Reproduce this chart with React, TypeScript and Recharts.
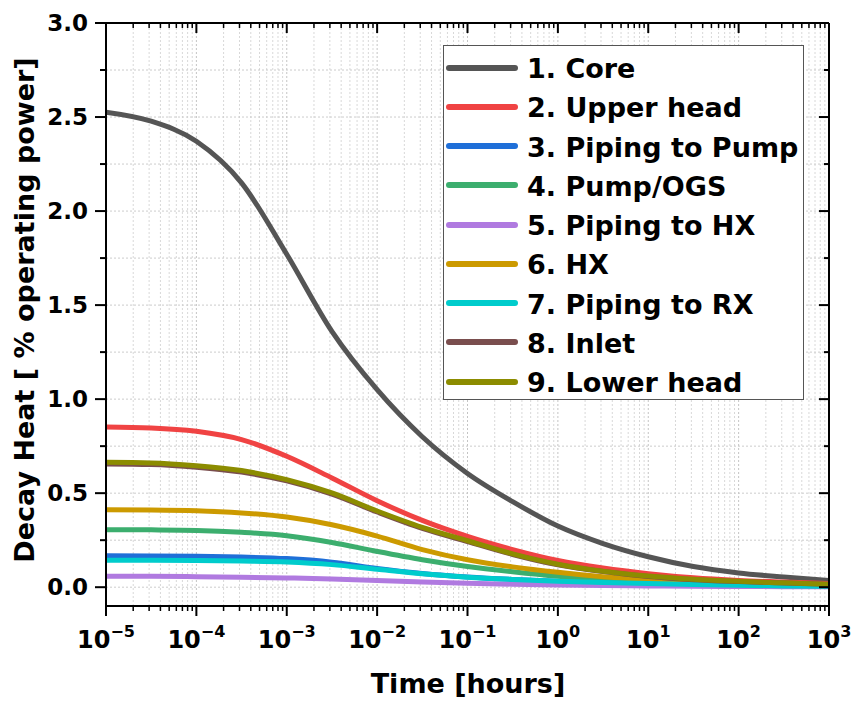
import React from 'react';
import { LineChart, Line, XAxis, YAxis, ReferenceLine, Legend } from 'recharts';

// time points (hours), half-decade spacing
const times = [1e-5, 3.16e-5, 1e-4, 3.16e-4, 1e-3, 3.16e-3, 1e-2, 3.16e-2, 1e-1, 0.316, 1, 3.16, 10, 31.6, 100, 316, 1000];

// decay heat, % operating power
const core = [2.526, 2.478, 2.371, 2.15, 1.77, 1.36, 1.05, 0.8, 0.605, 0.455, 0.325, 0.232, 0.162, 0.11, 0.076, 0.054, 0.035];
const upperHead = [0.852, 0.847, 0.829, 0.785, 0.696, 0.581, 0.46, 0.355, 0.27, 0.2, 0.142, 0.102, 0.072, 0.05, 0.036, 0.027, 0.02];
const pipingToPump = [0.167, 0.166, 0.164, 0.16, 0.152, 0.133, 0.1, 0.073, 0.054, 0.041, 0.032, 0.025, 0.019, 0.014, 0.01, 0.007, 0.005];
const pumpOgs = [0.306, 0.305, 0.302, 0.292, 0.274, 0.238, 0.19, 0.146, 0.11, 0.082, 0.058, 0.04, 0.028, 0.02, 0.015, 0.011, 0.008];
const pipingToHx = [0.058, 0.058, 0.056, 0.053, 0.049, 0.044, 0.036, 0.028, 0.021, 0.016, 0.012, 0.009, 0.007, 0.005, 0.004, 0.003, 0.002];
const hx = [0.412, 0.411, 0.407, 0.395, 0.373, 0.332, 0.272, 0.2, 0.146, 0.108, 0.079, 0.056, 0.04, 0.03, 0.022, 0.017, 0.012];
const pipingToRx = [0.143, 0.143, 0.142, 0.139, 0.134, 0.12, 0.095, 0.071, 0.053, 0.041, 0.032, 0.025, 0.019, 0.014, 0.01, 0.007, 0.005];
const inlet = [0.655, 0.652, 0.638, 0.612, 0.565, 0.495, 0.4, 0.313, 0.243, 0.174, 0.119, 0.083, 0.057, 0.04, 0.03, 0.022, 0.015];
const lowerHead = [0.664, 0.661, 0.646, 0.62, 0.572, 0.501, 0.405, 0.318, 0.247, 0.177, 0.122, 0.085, 0.059, 0.042, 0.031, 0.023, 0.016];

const seriesKeys = ['core', 'upperHead', 'pipingToPump', 'pumpOgs', 'pipingToHx', 'hx', 'pipingToRx', 'inlet', 'lowerHead'];
const seriesNames = ['1. Core', '2. Upper head', '3. Piping to Pump', '4. Pump/OGS', '5. Piping to HX', '6. HX', '7. Piping to RX', '8. Inlet', '9. Lower head'];
const seriesColors = ['#555555', '#f04343', '#1f6fd8', '#3cae6e', '#b07ae0', '#cc9a00', '#00cccc', '#7a4e4e', '#8c8c00'];
const seriesValues = [core, upperHead, pipingToPump, pumpOgs, pipingToHx, hx, pipingToRx, inlet, lowerHead];

const decades = [1e-5, 1e-4, 1e-3, 1e-2, 1e-1, 1, 10, 100, 1000];
const yTicks = [0, 0.25, 0.5, 0.75, 1.0, 1.25, 1.5, 1.75, 2.0, 2.25, 2.5, 2.75, 3.0];

const xTicks = decades.flatMap((d, i) =>
  i === decades.length - 1 ? [d] : [1, 2, 3, 4, 5, 6, 7, 8, 9].map((k) => k * d)
);

const data = times.map((t, i) => {
  const row: any = { t };
  seriesKeys.forEach((k, j) => (row[k] = seriesValues[j][i]));
  return row;
});

const FONT = '"DejaVu Sans", sans-serif';

const isDecade = (v: number) => Math.abs(Math.log10(v) - Math.round(Math.log10(v))) < 1e-6;
const isHalf = (v: number) => Math.abs(v * 2 - Math.round(v * 2)) < 1e-6;

const BottomTick = ({ x, y, payload }: any) => {
  const v = payload.value;
  const major = isDecade(v);
  const e = Math.round(Math.log10(v));
  return (
    <g>
      <line x1={x} x2={x} y1={y} y2={y + (major ? 10 : 5)} stroke="#000" strokeWidth={major ? 2 : 1.5} />
      {major && (
        <text x={x} y={y + 42} textAnchor="middle" fontFamily={FONT} fontWeight="bold" fontSize={24} fill="#000">
          <tspan>10</tspan>
          <tspan dy={-11} fontSize={16}>{e < 0 ? '\u2212' + -e : String(e)}</tspan>
        </text>
      )}
    </g>
  );
};

const TopTick = ({ x, y, payload }: any) => {
  const major = isDecade(payload.value);
  return <line x1={x} x2={x} y1={y} y2={y + (major ? 10 : 5)} stroke="#000" strokeWidth={major ? 2 : 1.5} />;
};

const LeftTick = ({ x, y, payload }: any) => {
  const v = payload.value;
  const major = isHalf(v);
  return (
    <g>
      <line x1={x} x2={x - (major ? 11 : 6)} y1={y} y2={y} stroke="#000" strokeWidth={2} />
      {major && (
        <text x={x - 18} y={y} dy="0.36em" textAnchor="end" fontFamily={FONT} fontWeight="bold" fontSize={23} fill="#000">
          {v.toFixed(1)}
        </text>
      )}
    </g>
  );
};

const RightTick = ({ x, y, payload }: any) => {
  const major = isHalf(payload.value);
  return <line x1={x} x2={x - (major ? 10 : 5)} y1={y} y2={y} stroke="#000" strokeWidth={2} />;
};

const renderLegend = () => (
  <div
    style={{
      boxSizing: 'border-box',
      width: 361,
      height: 355,
      border: '1px solid #555',
      background: '#fff',
      paddingTop: 2,
    }}
  >
    {seriesNames.map((n, i) => (
      <div key={n} style={{ display: 'flex', alignItems: 'center', height: 39.25 }}>
        <svg width={80} height={10} style={{ flex: 'none', display: 'block' }}>
          <line x1={5} x2={71} y1={5} y2={5} stroke={seriesColors[i]} strokeWidth={6} strokeLinecap="round" />
        </svg>
        <span
          style={{
            marginLeft: 3,
            fontFamily: FONT,
            fontWeight: 'bold',
            fontSize: 27,
            lineHeight: '39px',
            color: '#000',
            position: 'relative',
            top: 1,
            whiteSpace: 'nowrap',
          }}
        >
          {n}
        </span>
      </div>
    ))}
  </div>
);

export default function App() {
  return (
    <div style={{ position: 'absolute', left: 0, top: 0, width: 851, height: 707, background: '#fff' }}>
      <LineChart width={851} height={707} data={data} margin={{ top: 0, right: 0, bottom: 0, left: 0 }}>
        <XAxis
          dataKey="t"
          type="number"
          scale="log"
          domain={[1e-5, 1e3]}
          allowDataOverflow
          ticks={xTicks}
          interval={0}
          height={101}
          tickSize={0}
          tickMargin={0}
          tick={<BottomTick />}
          axisLine={{ stroke: '#000', strokeWidth: 2 }}
          tickLine={false}
          label={{
            content: () => (
              <text x={468} y={693} textAnchor="middle" fontFamily={FONT} fontWeight="bold" fontSize={27} fill="#000">
                Time [hours]
              </text>
            ),
          }}
        />
        <XAxis
          xAxisId="top"
          orientation="top"
          dataKey="t"
          type="number"
          scale="log"
          domain={[1e-5, 1e3]}
          allowDataOverflow
          ticks={xTicks}
          interval={0}
          height={23}
          tickSize={0}
          tickMargin={0}
          tick={<TopTick />}
          axisLine={{ stroke: '#000', strokeWidth: 2 }}
          tickLine={false}
        />
        <YAxis
          type="number"
          domain={[-0.1, 3.0]}
          allowDataOverflow
          ticks={yTicks}
          interval={0}
          width={106}
          tickSize={0}
          tickMargin={0}
          tick={<LeftTick />}
          axisLine={{ stroke: '#000', strokeWidth: 2 }}
          tickLine={false}
          label={{
            content: () => (
              <text
                x={34}
                y={310}
                transform="rotate(-90 34 310)"
                textAnchor="middle"
                fontFamily={FONT}
                fontWeight="bold"
                fontSize={27}
                fill="#000"
              >
                Decay Heat [ % operating power]
              </text>
            ),
          }}
        />
        <YAxis
          yAxisId="right"
          orientation="right"
          type="number"
          domain={[-0.1, 3.0]}
          allowDataOverflow
          ticks={yTicks}
          interval={0}
          width={22}
          tickSize={0}
          tickMargin={0}
          tick={<RightTick />}
          axisLine={{ stroke: '#000', strokeWidth: 2 }}
          tickLine={false}
        />

        {xTicks.map((v) => (
          <ReferenceLine
            key={'gx' + v}
            x={v}
            stroke={isDecade(v) ? '#c4c4c4' : '#d8d8d8'}
            strokeDasharray="2 2"
            strokeWidth={1}
          />
        ))}
        {yTicks.map((v) => (
          <ReferenceLine key={'gy' + v} y={v} stroke="#cccccc" strokeDasharray="2 2" strokeWidth={1} />
        ))}

        {seriesKeys.map((k, i) => (
          <Line
            key={k}
            dataKey={k}
            name={seriesNames[i]}
            type="monotone"
            stroke={seriesColors[i]}
            strokeWidth={5}
            dot={false}
            activeDot={false}
            isAnimationActive={false}
          />
        ))}

        <Legend
          layout="vertical"
          align="center"
          verticalAlign="middle"
          content={renderLegend}
          wrapperStyle={{ left: 443, top: 45, width: 361, height: 355 }}
        />
      </LineChart>
    </div>
  );
}
